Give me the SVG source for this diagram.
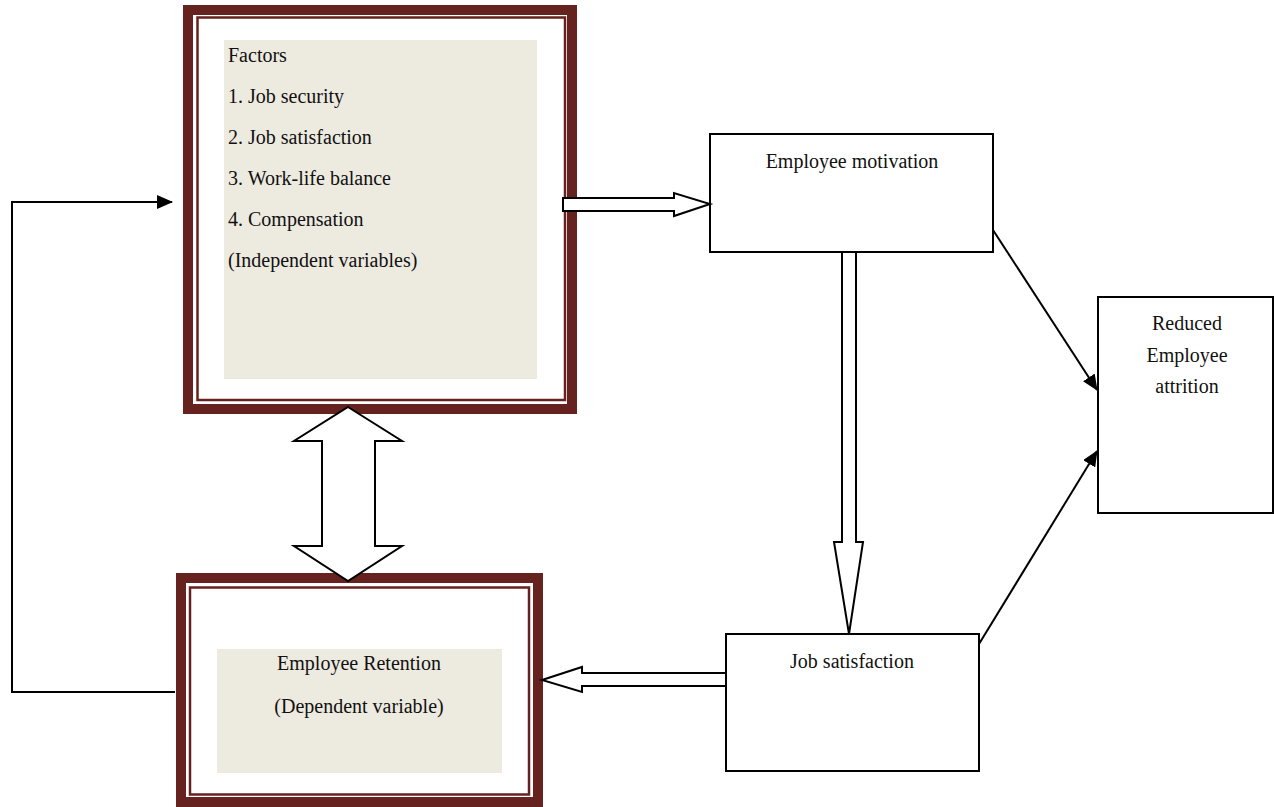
<svg xmlns="http://www.w3.org/2000/svg" width="1274" height="807" viewBox="0 0 1274 807">
<defs>
<style>
.t{font-family:"Liberation Serif","Times New Roman",serif;font-size:20px;fill:#111;}
.c{text-anchor:middle;}
.thick{fill:none;stroke:#65221F;stroke-width:10;}
.thin{fill:none;stroke:#65221F;stroke-width:2.5;}
.panel{fill:#EDEAE0;stroke:none;}
.box{fill:#fff;stroke:#000;stroke-width:2;}
.blk{fill:#fff;stroke:#000;stroke-width:2;stroke-linejoin:miter;}
.ln{fill:none;stroke:#000;stroke-width:2;}
</style>
<marker id="ah" markerWidth="16" markerHeight="14" refX="15" refY="7" orient="auto" markerUnits="userSpaceOnUse">
<path d="M0,0 L16,7 L0,14 Z" fill="#000"/>
</marker>
</defs>
<rect width="1274" height="807" fill="#fff"/>

<g id="factors">
<rect class="thick" x="188" y="10" width="384" height="399"/>
<rect class="thin" x="197.5" y="17.5" width="367.5" height="382.5"/>
<rect class="panel" x="224" y="40" width="313" height="339"/>
<text class="t" x="228" y="62">Factors</text>
<text class="t" x="228" y="103">1. Job security</text>
<text class="t" x="228" y="144">2. Job satisfaction</text>
<text class="t" x="228" y="185">3. Work-life balance</text>
<text class="t" x="228" y="226">4. Compensation</text>
<text class="t" x="228" y="267">(Independent variables)</text>
</g>

<g id="retention">
<rect class="thick" x="181" y="578" width="357" height="224"/>
<rect class="thin" x="190" y="587.5" width="339" height="207"/>
<rect class="panel" x="217" y="649" width="285" height="124"/>
<text class="t c" x="359" y="670">Employee Retention</text>
<text class="t c" x="359" y="713">(Dependent variable)</text>
</g>

<g id="motivation">
<rect class="box" x="710" y="134" width="283" height="118"/>
<text class="t c" x="852" y="168">Employee motivation</text>
</g>

<g id="jobsat">
<rect class="box" x="726" y="634" width="253" height="137"/>
<text class="t c" x="852" y="668">Job satisfaction</text>
</g>

<g id="attrition">
<rect class="box" x="1098" y="297" width="175" height="216"/>
<text class="t c" x="1187" y="330">Reduced</text>
<text class="t c" x="1187" y="362">Employee</text>
<text class="t c" x="1187" y="393">attrition</text>
</g>

<g id="connectors">
<path class="ln" d="M175,692 L12,692 L12,202 L172,202" marker-end="url(#ah)"/>
<line class="ln" x1="993" y1="230" x2="1097" y2="390" marker-end="url(#ah)"/>
<line class="ln" x1="979" y1="644" x2="1097" y2="451" marker-end="url(#ah)"/>
<path class="blk" d="M563,198 L674,198 L674,193 L710,204 L674,216 L674,211 L563,211 Z"/>
<path class="blk" d="M842,252 L856,252 L856,542 L863,542 L849,634 L834,542 L842,542 Z"/>
<path class="blk" d="M725,673 L582,673 L582,667 L542,680 L582,692 L582,686 L725,686"/>
<path class="blk" d="M348,407 L402,441 L375,441 L375,546 L402,546 L348,581 L294,546 L322,546 L322,441 L294,441 Z"/>
</g>
</svg>
